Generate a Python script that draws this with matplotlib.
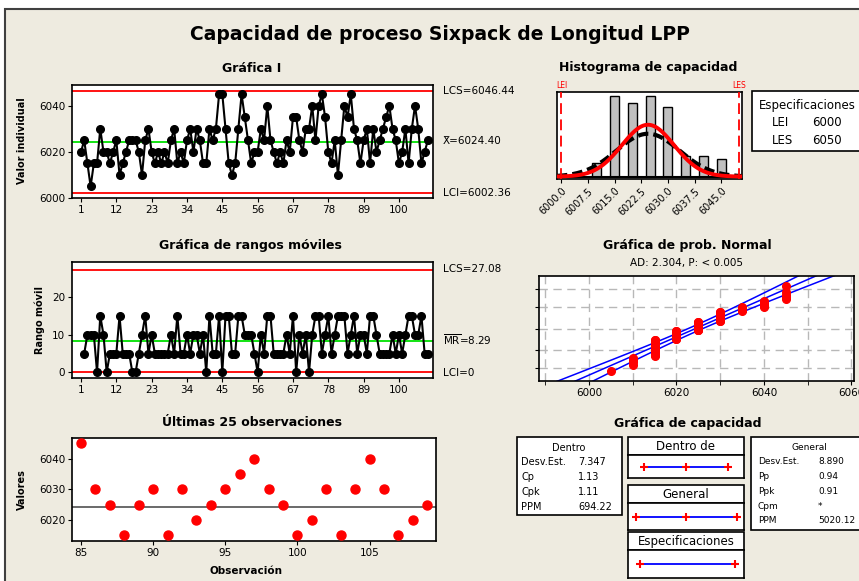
import numpy as np
import matplotlib
matplotlib.use("Agg")
import matplotlib.pyplot as plt
from matplotlib.patches import Rectangle
from statistics import NormalDist

# Longitud LPP, 109 individual observations
valores = [6020, 6025, 6015, 6005, 6015, 6015, 6030, 6020, 6020, 6015,
           6020, 6025, 6010, 6015, 6020, 6025, 6025, 6025, 6020, 6010,
           6025, 6030, 6020, 6015, 6020, 6015, 6020, 6015, 6025, 6030,
           6015, 6020, 6015, 6025, 6030, 6020, 6030, 6025, 6015, 6015,
           6030, 6025, 6030, 6045, 6045, 6030, 6015, 6010, 6015, 6030,
           6045, 6035, 6025, 6015, 6020, 6020, 6030, 6025, 6040, 6025,
           6020, 6015, 6020, 6015, 6025, 6020, 6035, 6035, 6025, 6020,
           6030, 6030, 6040, 6025, 6040, 6045, 6035, 6020, 6015, 6025,
           6010, 6025, 6040, 6035, 6045, 6030, 6025, 6015, 6025, 6030,
           6015, 6030, 6020, 6025, 6030, 6035, 6040, 6030, 6025, 6015,
           6020, 6030, 6015, 6030, 6040, 6030, 6015, 6020, 6025]

# limits and statistics as printed on the chart
media = 6024.40
lcs_i, lci_i = 6046.44, 6002.36
mr_bar, lcs_mr, lci_mr = 8.29, 27.08, 0.0
lei, les = 6000, 6050
sd_dentro, sd_general = 7.347, 8.890

i_ticks = [1, 12, 23, 34, 45, 56, 67, 78, 89, 100]
hist_ticks = [6000.0, 6007.5, 6015.0, 6022.5, 6030.0, 6037.5, 6045.0]
prob_pcts = [1, 10, 50, 90, 99]

dentro_rows = [("Desv.Est.", "7.347"), ("Cp", "1.13"), ("Cpk", "1.11"), ("PPM", "694.22")]
general_rows = [("Desv.Est.", "8.890"), ("Pp", "0.94"), ("Ppk", "0.91"),
                ("Cpm", "*"), ("PPM", "5020.12")]

W, H = 859, 581
BG = "#EEEBE0"
plt.rcParams['font.family'] = 'DejaVu Sans'

fig = plt.figure(figsize=(W / 100, H / 100), dpi=100)
fig.patch.set_facecolor("white")

ov = fig.add_axes([0, 0, 1, 1])
ov.set_xlim(0, W)
ov.set_ylim(H, 0)
ov.axis("off")
ov.add_patch(Rectangle((5, 9), W, H, facecolor=BG, edgecolor="#404040", lw=1.5))


def add_ax(l, t, r, b):
    a = fig.add_axes([l / W, 1 - b / H, (r - l) / W, (b - t) / H])
    a.tick_params(labelsize=7.5, length=3, width=0.8, pad=2)
    for s in a.spines.values():
        s.set_linewidth(1.2)
    return a


def txt(x, y, s, size=7.5, **kw):
    ov.text(x, y, s, fontsize=size, va="center", **kw)


txt(440, 35, "Capacidad de proceso Sixpack de Longitud LPP", 13.5, ha="center", weight="bold")
txt(252, 68, "Gráfica I", 9, ha="center", weight="bold")
txt(648, 68, "Histograma de capacidad", 9, ha="center", weight="bold")
txt(250, 246, "Gráfica de rangos móviles", 9, ha="center", weight="bold")
txt(687, 246, "Gráfica de prob. Normal", 9, ha="center", weight="bold")
txt(687, 263, "AD: 2.304, P: < 0.005", 7.5, ha="center")
txt(252, 423, "Últimas 25 observaciones", 9, ha="center", weight="bold")
txt(688, 423, "Gráfica de capacidad", 9, ha="center", weight="bold")
txt(22, 141, "Valor individual", 7, ha="center", weight="bold", rotation=90)
txt(40, 320, "Rango móvil", 7, ha="center", weight="bold", rotation=90)
txt(22, 490, "Valores", 7, ha="center", weight="bold", rotation=90)
txt(246, 571, "Observación", 7.5, ha="center", weight="bold")

obs = np.arange(1, len(valores) + 1)
vals = np.array(valores)

# I chart
ax = add_ax(72, 85, 433, 198)
ax.plot(obs, vals, "o-", color="black", ms=5.5, lw=1.5, zorder=3)
ax.axhline(lcs_i, color="red", lw=1.3)
ax.axhline(lci_i, color="red", lw=1.3)
ax.axhline(media, color="#00E000", lw=1.3)
ax.set_xlim(-1.8, 110.6)
ax.set_ylim(6000, 6049)
ax.set_xticks(i_ticks)
ax.set_yticks([6000, 6020, 6040])
txt(443, 91, "LCS=6046.44")
txt(443, 141, "X\u0304=6024.40")
txt(443, 193, "LCI=6002.36")

# moving range chart
mr = np.abs(np.diff(vals))
ax = add_ax(72, 262, 433, 378)
ax.plot(obs[1:], mr, "o-", color="black", ms=5.5, lw=1.5, zorder=3)
ax.axhline(lcs_mr, color="red", lw=1.3)
ax.axhline(lci_mr, color="red", lw=1.3)
ax.axhline(mr_bar, color="#00E000", lw=1.3)
ax.set_xlim(-1.8, 110.6)
ax.set_ylim(-1.5, 29.3)
ax.set_xticks(i_ticks)
ax.set_yticks([0, 10, 20])
txt(443, 269, "LCS=27.08")
txt(443, 340, r"$\overline{\mathrm{MR}}$=8.29")
txt(443, 373, "LCI=0")

# last 25 observations
ax = add_ax(72, 438, 436, 541)
ax.plot(obs[-25:], vals[-25:], "o", color="red", ms=6.5, zorder=3)
ax.axhline(media, color="#505050", lw=1.2)
ax.set_xlim(84.38, 109.6)
ax.set_ylim(6013.2, 6046.7)
ax.set_xticks([85, 90, 95, 100, 105])
ax.set_yticks([6020, 6030, 6040])

# capability histogram
ax = add_ax(557, 92, 742, 179)
bins = np.arange(6001.25, 6050, 2.5)
counts, _, _ = ax.hist(vals, bins=bins, rwidth=1.0, facecolor="#C0C0C0",
                       edgecolor="black", lw=1.0, zorder=2)
xs = np.linspace(5998.8, 6050.8, 300)
dn = NormalDist(media, sd_dentro)
dg = NormalDist(media, sd_general)
ax.plot(xs, [len(vals) * 2.5 * dg.pdf(x) for x in xs], color="black", lw=3,
        ls=(0, (2.5, 1.2)), zorder=3)
ax.plot(xs, [len(vals) * 2.5 * dn.pdf(x) for x in xs], color="red", lw=2.8, zorder=4)
ax.axhline(0, color="black", lw=1.5, zorder=3)
for lim in (lei, les):
    ax.axvline(lim, color="red", lw=1.3, ls=(0, (6, 3)), zorder=5)
ax.set_xlim(5998.8, 6050.85)
ax.set_ylim(-0.03 * counts.max(), counts.max() * 1.05)
ax.set_yticks([])
ax.set_xticks(hist_ticks)
ax.set_xticklabels([f"{t:.1f}" for t in hist_ticks], rotation=45, ha="right",
                   rotation_mode="anchor", fontsize=7)
txt(562, 85, "LEI", 5.5, ha="center", color="red")
txt(739, 85, "LES", 5.5, ha="center", color="red")

ov.add_patch(Rectangle((752, 91), 120, 60, facecolor="white", edgecolor="black", lw=1.2))
txt(759, 105, "Especificaciones", 8.5)
txt(772, 122, "LEI", 8.5)
txt(812, 122, "6000", 8.5)
txt(772, 140, "LES", 8.5)
txt(812, 140, "6050", 8.5)

# normal probability plot
ax = add_ax(539, 276, 854, 381)
nd = NormalDist()
n = len(vals)
xs_sorted = np.sort(vals)
zs = [nd.inv_cdf((k - 0.3) / (n + 0.4)) for k in range(1, n + 1)]
zg = np.linspace(-3.2, 3.2, 100)
fit = media + sd_general * zg
half = 1.96 * sd_general * np.sqrt(1 / n + zg ** 2 / (2 * (n - 1)))
for xline in (fit - half, fit, fit + half):
    ax.plot(xline, zg, color="blue", lw=1.1, zorder=2)
ax.plot(xs_sorted, zs, "o", color="red", ms=5.5, zorder=3)
ax.set_xlim(5988.6, 6060.6)
ax.set_ylim(-3.09, 3.09)
ax.set_xticks(np.arange(5990, 6061, 10), minor=True)
ax.set_xticks([6000, 6020, 6040, 6060])
ax.set_yticks([nd.inv_cdf(p / 100) for p in prob_pcts])
ax.set_yticklabels([])
ax.grid(True, which="both", color="#B8B8B8", ls=(0, (6, 4)), lw=1.0)
ax.tick_params(which="minor", length=3)

# capability plot: text boxes
ov.add_patch(Rectangle((517, 437), 105, 78, facecolor="white", edgecolor="black", lw=1.2))
txt(569, 448, "Dentro", 7, ha="center")
for k, (a, b) in enumerate(dentro_rows):
    txt(521, 462 + 15 * k, a, 7)
    txt(578, 462 + 15 * k, b, 7)

ov.add_patch(Rectangle((751, 437), 120, 93, facecolor="white", edgecolor="black", lw=1.2))
txt(809, 448, "General", 6.5, ha="center")
for k, (a, b) in enumerate(general_rows):
    txt(758, 462 + 14.7 * k, a, 6.5)
    txt(818, 462 + 14.7 * k, b, 6.5)

intervals = [("Dentro de", 437, 455, 478, [lci_i, media, lcs_i]),
             ("General", 485, 503, 530, [media - 3 * sd_general, media, media + 3 * sd_general]),
             ("Especificaciones", 532, 550, 578, [lei, les])]
for name, top, mid, bot, pts in intervals:
    ov.add_patch(Rectangle((628, top), 116, mid - top, facecolor="white",
                           edgecolor="black", lw=1.2))
    txt(686, (top + mid) / 2 + 0.5, name, 8.5, ha="center")
    pa = add_ax(628, mid, 744, bot)
    pa.plot([pts[0], pts[-1]], [0, 0], color="blue", lw=1.3)
    pa.plot(pts, [0] * len(pts), "+", color="red", ms=6, mew=1.5)
    pa.set_xlim(5993.7, 6054.7)
    pa.set_ylim(-1, 1)
    pa.set_xticks([])
    pa.set_yticks([])

fig.savefig("out.png", dpi=100, facecolor=fig.get_facecolor())
